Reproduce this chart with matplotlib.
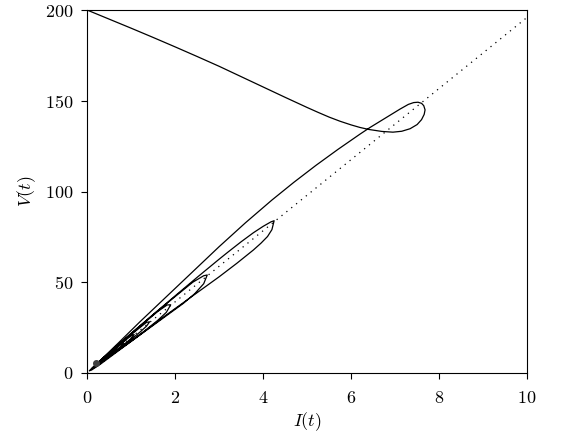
import numpy as np
import matplotlib
matplotlib.use("Agg")
import matplotlib.pyplot as plt

plt.rcParams['font.family'] = 'serif'
plt.rcParams['font.serif'] = ['cmr10']
plt.rcParams['mathtext.fontset'] = 'cm'
plt.rcParams['axes.formatter.use_mathtext'] = True

# reference line V = k*I (dotted)
line_I = [0, 10]
line_V = [0, 196]

# trajectory, traced branch by branch
approach_I = [0, 0.5, 1, 1.5, 2, 2.5, 3, 3.5, 4, 4.5, 5, 5.25, 5.5, 5.75, 6.0, 6.2,
              6.4, 6.7, 6.95, 7.15, 7.34, 7.5, 7.6, 7.66, 7.68, 7.65, 7.6, 7.52]
approach_V = [200, 195.0, 190.0, 184.9, 179.7, 174.4, 169.0, 163.3, 157.6, 151.9,
              146.3, 143.6, 141.0, 138.7, 136.7, 135.3, 134.2, 133.1, 132.7, 133.2,
              134.6, 136.9, 139.6, 142.5, 145.0, 147.3, 148.6, 149.2]

loop1_up_I = [7.42, 7.3, 7.11, 6.9, 6.66, 6.43, 6.2, 5.7, 5.2, 4.7, 4.2, 3.6, 3.0,
              2.4, 1.8, 1.2, 0.7, 0.35, 0.12, 0.05]
loop1_up_V = [149.0, 148.0, 145.4, 142.3, 138.8, 135.3, 131.6, 123.2, 114.4, 105.1,
              95.3, 82.8, 69.6, 55.8, 42.0, 28.2, 16.3, 8.1, 2.9, 1.2]

loop2_lo_I = [0.1, 0.3, 0.7, 1.2, 1.8, 2.4, 3.0, 3.4, 3.78, 3.95, 4.1, 4.2, 4.25]
loop2_lo_V = [1.6, 4.8, 12.0, 21.0, 32.0, 42.5, 53.0, 60.4, 67.8, 71.5, 75.2, 79.0,
              83.9]
loop2_up_I = [4.18, 4.0, 3.78, 3.5, 3.2, 3.0, 2.5, 2.0, 1.5, 1.0, 0.6, 0.3, 0.1]
loop2_up_V = [83.3, 80.8, 77.3, 72.3, 66.6, 62.7, 52.7, 42.5, 32.2, 21.8, 13.4, 6.8,
              2.3]

loop3_lo_I = [0.2, 0.5, 1.0, 1.5, 2.0, 2.19, 2.45, 2.65, 2.73]
loop3_lo_V = [3.5, 9.0, 17.4, 26.2, 35.0, 38.4, 43.8, 49.2, 54.0]
loop3_up_I = [2.65, 2.4, 2.0, 1.5, 1.0, 0.6, 0.3, 0.15]
loop3_up_V = [53.6, 50.0, 42.1, 32.1, 21.8, 13.3, 6.9, 3.4]

loop4_lo_I = [0.22, 0.5, 0.9, 1.3, 1.6, 1.8, 1.9]
loop4_lo_V = [4.0, 8.9, 15.9, 23.1, 28.9, 33.4, 37.6]
loop4_up_I = [1.82, 1.6, 1.2, 0.8, 0.5, 0.25]
loop4_up_V = [37.5, 33.8, 25.6, 17.2, 10.9, 5.7]

loop5_lo_I = [0.3, 0.6, 0.95, 1.2, 1.35, 1.42]
loop5_lo_V = [5.4, 10.9, 17.6, 22.5, 25.8, 28.2]
loop5_up_I = [1.35, 1.1, 0.8, 0.5, 0.3]
loop5_up_V = [27.9, 23.1, 16.9, 10.7, 6.5]

loop6_lo_I = [0.35, 0.6, 0.85, 1.0, 1.07]
loop6_lo_V = [6.4, 11.0, 15.9, 19.0, 21.2]
loop6_up_I = [1.0, 0.8, 0.55, 0.35]
loop6_up_V = [20.6, 16.6, 11.6, 7.5]

loop7_I = [0.4, 0.6, 0.75, 0.83, 0.76, 0.6, 0.42]
loop7_V = [7.4, 11.3, 14.4, 16.5, 15.9, 12.7, 8.9]
loop8_I = [0.45, 0.58, 0.65, 0.6, 0.47, 0.3, 0.22]
loop8_V = [8.4, 11.1, 13.0, 12.6, 10.0, 6.7, 5.3]

end_I = 0.21
end_V = 5.3

I_all = np.concatenate([approach_I, loop1_up_I, loop2_lo_I, loop2_up_I, loop3_lo_I,
                        loop3_up_I, loop4_lo_I, loop4_up_I, loop5_lo_I, loop5_up_I,
                        loop6_lo_I, loop6_up_I, loop7_I, loop8_I])
V_all = np.concatenate([approach_V, loop1_up_V, loop2_lo_V, loop2_up_V, loop3_lo_V,
                        loop3_up_V, loop4_lo_V, loop4_up_V, loop5_lo_V, loop5_up_V,
                        loop6_lo_V, loop6_up_V, loop7_V, loop8_V])

fig = plt.figure(figsize=(5.73, 4.36), dpi=100)
ax = fig.add_axes([0.152, 0.1445, 0.768, 0.8325])

ax.plot(line_I, line_V, color='black', lw=0.9, linestyle=(0, (1, 4)))
ax.plot(I_all, V_all, color='black', lw=0.9)
ax.plot(end_I, end_V, 'o', color='0.25', ms=4)

ax.set_xlim(0, 10)
ax.set_ylim(0, 200)
ax.set_xticks([0, 2, 4, 6, 8, 10])
ax.set_yticks([0, 50, 100, 150, 200])
ax.tick_params(labelsize=13, length=4, pad=6)
ax.tick_params(axis='x', pad=8)
ax.set_xlabel(r'$I(t)$', fontsize=13, labelpad=3)
ax.set_ylabel(r'$V(t)$', fontsize=13, labelpad=5)

fig.savefig('out.png', dpi=100)
